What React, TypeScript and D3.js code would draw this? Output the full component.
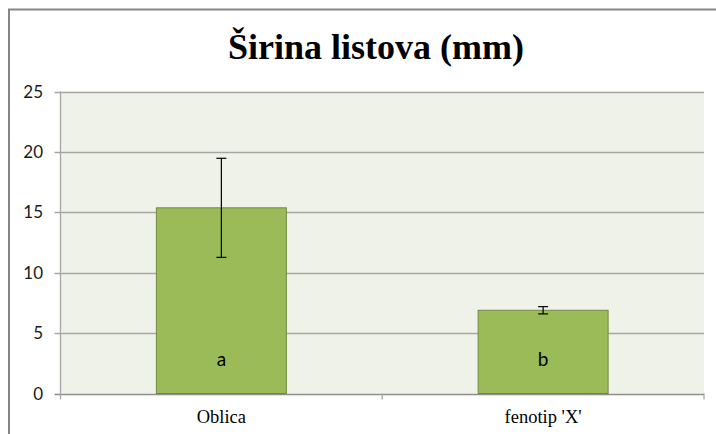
import React from "react";
import * as d3 from "d3";

const categories = ["Oblica", "fenotip 'X'"];
const means = [15.37, 6.89];
const errors = [4.1, 0.3];
const letters = ["a", "b"];
const yTicks = [0, 5, 10, 15, 20, 25];
const title = "Širina listova (mm)";

export default function App() {
  const W = 716, H = 434;
  const left = 60.5, right = 704, top = 91.5, bottom = 393.5;
  const x = d3.scaleBand<string>().domain(categories).range([left, right]).paddingInner(0.596).paddingOuter(0.298);
  const x0 = d3.scaleBand<string>().domain(categories).range([left, right]);
  const y = d3.scaleLinear().domain([0, 25]).range([bottom, top]);
  const bounds = [left, ...categories.map((c) => (x0(c) as number) + x0.bandwidth())];
  return (
    <svg width={W} height={H} style={{ position: "absolute", left: 0, top: 0, background: "#fff" }}>
      <rect x={9} y={9.5} width={740} height={440} fill="#fff" stroke="#868686" strokeWidth={2} />
      <text x={376} y={59} textAnchor="middle" fontFamily="'Liberation Serif', serif" fontWeight="bold" fontSize={36} fill="#000">{title}</text>
      <rect x={left} y={top} width={right - left} height={bottom - top} fill="#EFF2E9" />
      {yTicks.map((t) => (
        <g key={t}>
          <line x1={left - 6} x2={right} y1={Math.round(y(t)) + 0.5} y2={Math.round(y(t)) + 0.5} stroke={t === 0 ? "#8c8c8c" : "#a6a6a6"} strokeWidth={1.3} />
          <text x={43} y={y(t) + 6} textAnchor="end" fontFamily="Lato, 'Open Sans', sans-serif" fontSize={17} fill="#1a1a1a">{t}</text>
        </g>
      ))}
      <line x1={left} x2={left} y1={top} y2={bottom + 0.5} stroke="#a6a6a6" strokeWidth={1.3} />
      {bounds.map((b, i) => (
        <line key={i} x1={b} x2={b} y1={bottom} y2={bottom + 6} stroke="#a6a6a6" strokeWidth={1.3} />
      ))}
      {categories.map((c, i) => {
        const bx = x(c) as number;
        const bw = x.bandwidth();
        const cx = bx + bw / 2;
        return (
          <g key={c}>
            <rect x={bx} y={y(means[i])} width={bw} height={bottom - y(means[i])} fill="#9BBB59" stroke="#71893F" strokeWidth={1} />
            <line x1={cx} x2={cx} y1={y(means[i] + errors[i])} y2={y(means[i] - errors[i])} stroke="#000" strokeWidth={1.2} />
            <line x1={cx - 5} x2={cx + 5} y1={y(means[i] + errors[i])} y2={y(means[i] + errors[i])} stroke="#000" strokeWidth={1.2} />
            <line x1={cx - 5} x2={cx + 5} y1={y(means[i] - errors[i])} y2={y(means[i] - errors[i])} stroke="#000" strokeWidth={1.2} />
            <text x={cx} y={366} textAnchor="middle" fontFamily="Lato, 'Open Sans', sans-serif" fontSize={19} fill="#000">{letters[i]}</text>
            <text x={cx} y={423} textAnchor="middle" fontFamily="'Liberation Serif', serif" fontSize={18.5} fill="#000">{c}</text>
          </g>
        );
      })}
    </svg>
  );
}
